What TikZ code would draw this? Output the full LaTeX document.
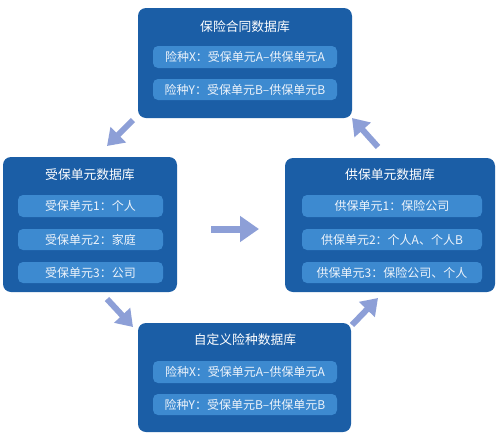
\documentclass[tikz,border=0pt]{standalone}
\usepackage{fontspec}
\setmainfont{Noto Sans CJK SC}
\usetikzlibrary{arrows.meta}
\definecolor{outerblue}{HTML}{1B5EA6}
\definecolor{innerblue}{HTML}{3D8AD0}
\definecolor{arrowblue}{HTML}{8D9FD7}
\definecolor{rowtext}{HTML}{EEF4FB}
\begin{document}
\begin{tikzpicture}[x=1pt,y=-1pt,
  panel/.style={fill=outerblue, draw=none, rounded corners=8pt, inner sep=0pt},
  rowbox/.style={fill=innerblue, draw=none, rounded corners=5pt, inner sep=0pt,
    text=rowtext, font=\fontsize{12}{13}\selectfont},
  paneltitle/.style={text=white, inner sep=0pt, font=\fontsize{12.8}{14}\selectfont},
  flowarrow/.style={arrowblue, line width=7pt,
    -{Triangle[length=19pt,width=25pt]}},
  flowarrowsmall/.style={arrowblue, line width=6pt,
    -{Triangle[length=16pt,width=21pt]}}]
\useasboundingbox (0,0) rectangle (499,437);
\fill[white] (0,0) rectangle (499,437);

% top panel
\node[panel, minimum width=214pt, minimum height=110pt] (top) at (245,63) {};
\node[paneltitle] (toptitle) at (245,27) {保险合同数据库};
\node[rowbox, minimum width=184pt, minimum height=22pt] (top1) at (245,57) {险种X：受保单元A–供保单元A};
\node[rowbox, minimum width=184pt, minimum height=21pt] (top2) at (245,89.5) {险种Y：受保单元B–供保单元B};

% left panel
\node[panel, minimum width=174pt, minimum height=135pt] (left) at (90,224.5) {};
\node[paneltitle] (lefttitle) at (90,175) {受保单元数据库};
\node[rowbox, minimum width=145pt, minimum height=22pt] (left1) at (90.5,206) {受保单元1：个人};
\node[rowbox, minimum width=145pt, minimum height=21pt] (left2) at (90.5,239.5) {受保单元2：家庭};
\node[rowbox, minimum width=145pt, minimum height=21pt] (left3) at (90.5,272.5) {受保单元3：公司};

% right panel
\node[panel, minimum width=210pt, minimum height=134pt] (right) at (390,225) {};
\node[paneltitle] (righttitle) at (390,175) {供保单元数据库};
\node[rowbox, minimum width=180pt, minimum height=22pt] (right1) at (392,206) {供保单元1：保险公司};
\node[rowbox, minimum width=180pt, minimum height=21pt] (right2) at (392,239.5) {供保单元2：个人A、个人B};
\node[rowbox, minimum width=180pt, minimum height=21pt] (right3) at (392,272.5) {供保单元3：保险公司、个人};

% bottom panel
\node[panel, minimum width=213pt, minimum height=109pt] (bottom) at (244.5,377.5) {};
\node[paneltitle] (bottomtitle) at (245,340) {自定义险种数据库};
\node[rowbox, minimum width=184pt, minimum height=22pt] (bottom1) at (245,372) {险种X：受保单元A–供保单元A};
\node[rowbox, minimum width=184pt, minimum height=21pt] (bottom2) at (245,404.5) {险种Y：受保单元B–供保单元B};

% arrow end points
\coordinate (a1s) at (133,120);
\coordinate (a1e) at (107,146);
\coordinate (a2s) at (107,299);
\coordinate (a2e) at (133,327);
\coordinate (a3s) at (352,325);
\coordinate (a3e) at (378,298);
\coordinate (a4s) at (378,147);
\coordinate (a4e) at (352,118);
\coordinate (a5s) at (211,229);
\coordinate (a5e) at (259,229);

\draw[flowarrowsmall] (a1s) -- (a1e);
\draw[flowarrowsmall] (a2s) -- (a2e);
\draw[flowarrowsmall] (a3s) -- (a3e);
\draw[flowarrowsmall] (a4s) -- (a4e);
\draw[flowarrow] (a5s) -- (a5e);
\end{tikzpicture}
\end{document}
